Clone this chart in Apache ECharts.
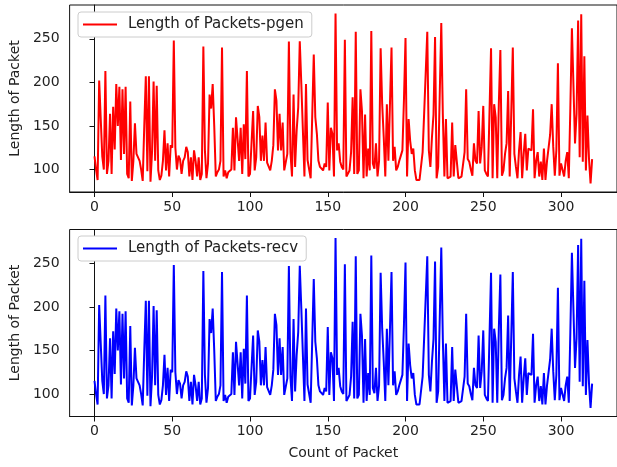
<!DOCTYPE html>
<html>
<head>
<meta charset="utf-8">
<script src="https://cdn.jsdelivr.net/npm/echarts@6/dist/echarts.min.js"></script>
<style>
html,body{margin:0;padding:0;background:#fff;}
#chart{width:617px;height:467px;}
</style>
</head>
<body>
<div id="chart"></div>
<script>
// Values (index = count of packet)
const pgenLengths = [
115,100,88,202,203,115,100,213,95,110,
164,95,172,123,198,150,195,111,192,118,
195,95,90,178,87,110,153,118,116,110,
100,87,150,207,98,207,86,120,201,110,
196,99,88,93,110,145,99,130,92,128,
125,248,125,100,116,112,95,110,114,126,
120,92,114,88,122,110,92,114,88,95,
241,122,90,107,186,170,198,150,92,97,
100,110,240,92,99,90,97,95,100,148,
99,160,162,110,148,95,152,112,213,92,
95,93,167,99,114,173,160,110,139,110,
154,108,108,99,110,128,192,179,122,164,
122,154,99,97,118,247,120,92,186,103,
145,171,247,198,200,92,198,111,111,90,
92,232,160,141,110,103,103,99,107,103,
177,99,148,141,92,279,122,130,109,103,
100,249,92,94,99,120,183,95,258,95,
99,192,167,90,163,92,124,99,259,107,
101,130,92,110,239,175,137,92,175,110,
175,240,110,126,99,103,110,116,122,180,
251,92,158,133,118,124,99,88,88,88,
88,120,165,167,258,122,103,137,163,252,
90,103,103,268,163,92,158,90,88,92,
154,92,128,109,90,92,92,94,120,192,
112,109,100,93,130,110,107,167,107,126,
173,99,95,92,90,239,90,175,160,90,
175,237,93,99,118,130,190,92,90,240,
118,103,90,122,143,90,118,141,99,124,
124,122,169,90,110,120,92,109,88,124,
88,110,110,140,175,126,93,122,222,93,
107,107,92,110,120,90,171,262,264,130,
164,271,114,278,109,230,99,162,112,84,112
];
const recvLengths = [
115,100,88,202,203,115,100,213,95,110,
164,95,172,123,198,150,195,111,192,118,
195,95,90,178,87,110,153,118,116,110,
100,87,150,207,98,207,86,120,201,110,
196,99,88,93,110,145,99,130,92,128,
125,248,125,100,116,112,95,110,114,126,
120,92,114,88,122,110,92,114,88,95,
241,122,90,107,186,170,198,150,92,97,
100,110,240,92,99,90,97,95,100,148,
99,160,162,110,148,95,152,112,213,92,
95,93,167,99,114,173,160,110,139,110,
154,108,108,99,110,128,192,179,122,164,
122,154,99,97,118,247,120,92,186,103,
145,171,247,198,200,92,198,111,111,90,
92,232,160,141,110,103,103,99,107,103,
177,99,148,141,92,279,122,130,109,103,
100,249,92,94,99,120,183,95,258,95,
99,192,167,90,163,92,124,99,259,107,
101,130,92,110,239,175,137,92,175,110,
175,240,110,126,99,103,110,116,122,180,
251,92,158,133,118,124,99,88,88,88,
88,120,165,167,258,122,103,137,163,252,
90,103,103,268,163,92,158,90,88,92,
154,92,128,109,90,92,92,94,120,192,
112,109,100,93,130,110,107,167,107,126,
173,99,95,92,90,239,90,175,160,90,
175,237,93,99,118,130,190,92,90,240,
118,103,90,122,143,90,118,141,99,124,
124,122,169,90,110,120,92,109,88,124,
88,110,110,140,175,126,93,122,222,93,
107,107,92,110,120,90,171,262,264,130,
164,271,114,278,109,230,99,162,112,84,112
];
const xTicks = [0, 50, 100, 150, 200, 250, 300];
const yTicks = [100, 150, 200, 250];
const seriesNames = ['Length of Packets-pgen', 'Length of Packets-recv'];
const xName = 'Count of Packet';
const yName = 'Length of Packet';

function pad(arr) {
  const mn = Math.min(...arr), mx = Math.max(...arr);
  const m = (mx - mn) * 0.05;
  return [mn - m, mx + m];
}
const n = pgenLengths.length - 1;
const xr = [-0.05 * n, n * 1.05];
const yr = pad(pgenLengths.concat(recvLengths));

const FONT = 'DejaVu Sans';
const TXT = '#222';

function xAxis(idx, withName) {
  return {
    type: 'value', gridIndex: idx, min: xr[0], max: xr[1],
    name: withName ? xName : '', nameLocation: 'middle', nameGap: 30,
    nameTextStyle: { fontFamily: FONT, fontSize: 14, color: TXT },
    axisLine: { show: true, lineStyle: { color: '#111', width: 1 } },
    axisTick: { show: true, length: 5, inside: false, customValues: xTicks, lineStyle: { color: '#111' } },
    axisLabel: { customValues: xTicks, margin: 8, fontFamily: FONT, fontSize: 14, color: TXT },
    splitLine: { show: false }
  };
}
function yAxis(idx) {
  return {
    type: 'value', gridIndex: idx, min: yr[0], max: yr[1],
    name: yName, nameLocation: 'middle', nameGap: 46, nameRotate: 90,
    nameTextStyle: { fontFamily: FONT, fontSize: 14, color: TXT },
    axisLine: { show: true, lineStyle: { color: '#111', width: 1 } },
    axisTick: { show: true, length: 5, inside: false, customValues: yTicks, lineStyle: { color: '#111' } },
    axisLabel: { customValues: yTicks, margin: 10, fontFamily: FONT, fontSize: 14, color: TXT },
    splitLine: { show: false }
  };
}
function legend(top, name) {
  return {
    left: 78, top: top, orient: 'vertical',
    data: [name], icon: 'rect', itemWidth: 34, itemHeight: 2,
    backgroundColor: '#fff', borderColor: '#ccc', borderWidth: 1, borderRadius: 3,
    padding: [5, 8, 5, 5],
    textStyle: { fontFamily: FONT, fontSize: 15, color: TXT, padding: [0, 0, 0, 6] },
    selectedMode: false
  };
}

const chart = echarts.init(document.getElementById('chart'), null, { renderer: 'canvas' });
chart.setOption({
  animation: false,
  backgroundColor: '#fff',
  grid: [
    { left: 69.5, top: 5, width: 552, height: 187, show: true, borderColor: '#111', borderWidth: 1 },
    { left: 69.5, top: 229.5, width: 552, height: 187, show: true, borderColor: '#111', borderWidth: 1 }
  ],
  legend: [legend(12, seriesNames[0]), legend(236, seriesNames[1])],
  xAxis: [xAxis(0, false), xAxis(1, true)],
  yAxis: [yAxis(0), yAxis(1)],
  series: [
    { name: seriesNames[0], type: 'line', xAxisIndex: 0, yAxisIndex: 0, showSymbol: false,
      data: pgenLengths.map((v, i) => [i, v]), lineStyle: { color: '#ff0000', width: 2 }, itemStyle: { color: '#ff0000' } },
    { name: seriesNames[1], type: 'line', xAxisIndex: 1, yAxisIndex: 1, showSymbol: false,
      data: recvLengths.map((v, i) => [i, v]), lineStyle: { color: '#0000ff', width: 2 }, itemStyle: { color: '#0000ff' } }
  ]
});
</script>
</body>
</html>
